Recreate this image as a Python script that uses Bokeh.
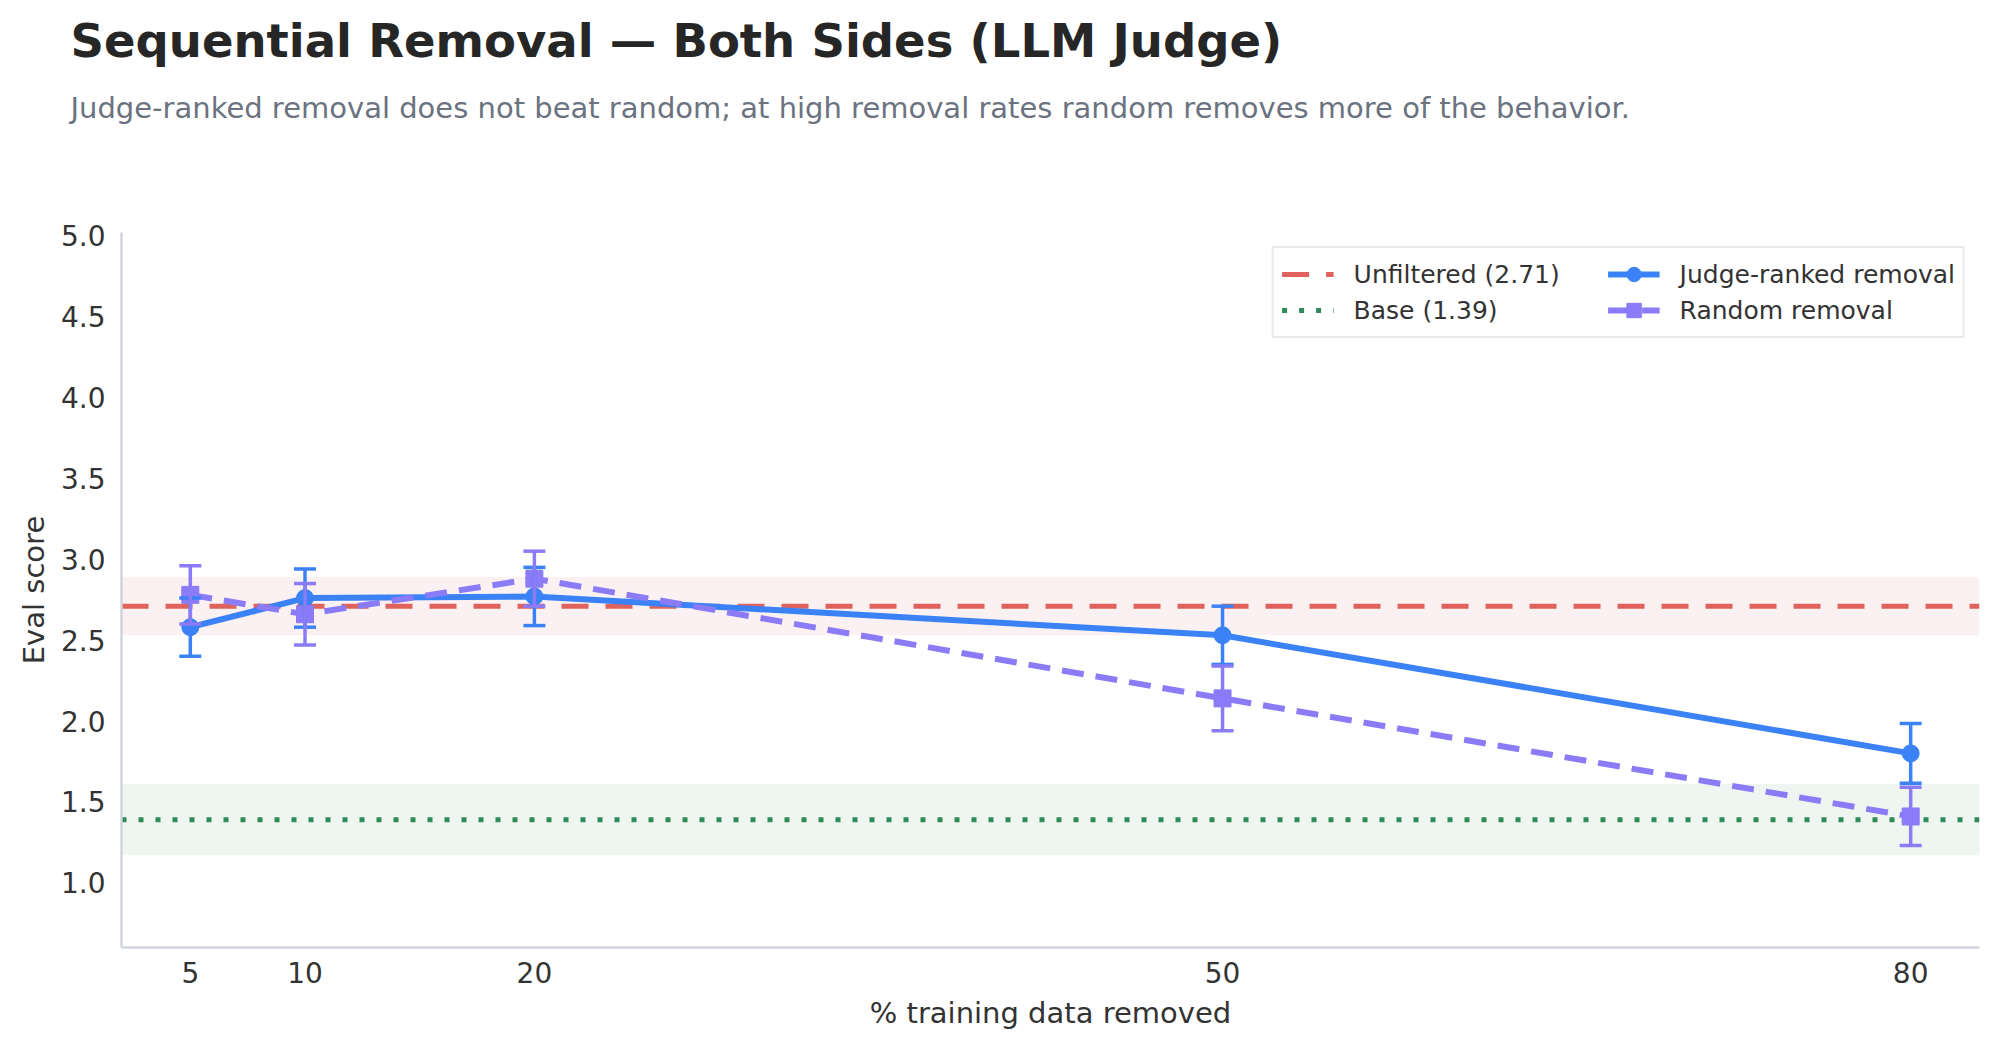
from bokeh.plotting import figure
from bokeh.models import (Range1d, BoxAnnotation, Legend, LegendItem, Title,
                          FixedTicker, Whisker, ColumnDataSource, TeeHead,
                          PrintfTickFormatter)
from bokeh.embed import file_html
from bokeh.resources import INLINE

# ---- data ----
pct_removed = [5, 10, 20, 50, 80]
judge_mean = [2.58, 2.76, 2.77, 2.53, 1.80]
judge_err = [0.18, 0.18, 0.18, 0.18, 0.185]
random_mean = [2.78, 2.66, 2.88, 2.14, 1.41]
random_err = [0.18, 0.19, 0.17, 0.20, 0.18]
unfiltered_score = 2.71
unfiltered_ci = 0.18
base_score = 1.39
base_ci = 0.22
x_ticks = [5, 10, 20, 50, 80]
y_ticks = [1.0, 1.5, 2.0, 2.5, 3.0, 3.5, 4.0, 4.5, 5.0]
x_lim = (2, 83)
y_lim = (0.6, 5.02)

title_text = "Sequential Removal \u2014 Both Sides (LLM Judge)"
subtitle_text = ("Judge-ranked removal does not beat random; at high removal rates "
                 "random removes more of the behavior.")

BLUE = "#3b82f6"
PURPLE = "#8b7bf7"
RED = "#e0625c"
GREEN = "#2e8b57"
FONT = "DejaVu Sans"

W, H = 1988, 1041
LEFT = 121

p = figure(width=W, height=H, output_backend="svg", toolbar_location=None,
           x_range=Range1d(*x_lim), y_range=Range1d(*y_lim),
           min_border_left=LEFT, min_border_right=9, min_border_top=232,
           min_border_bottom=94)
p.outline_line_color = None
p.xgrid.visible = False
p.ygrid.visible = False

# stacked from the frame outward: spacer, subtitle, main title (plot title)
p.title.text = title_text
p.title.text_font = FONT
p.title.text_font_size = "46.5px"
p.title.text_font_style = "bold"
p.title.text_color = "#262626"
p.title.align = "left"
p.title.offset = 70 - LEFT
p.title.standoff = 0
spacer = Title(text=" ", text_font=FONT, text_font_size="1px", align="left",
               standoff=84)
p.add_layout(spacer, "above")
subtitle = Title(text=subtitle_text, text_font=FONT, text_font_size="29px",
                 text_font_style="normal", text_color="#6b7280", align="left",
                 offset=70 - LEFT, standoff=42)
p.add_layout(subtitle, "above")

for ax in (p.xaxis[0], p.yaxis[0]):
    ax.axis_line_color = "#d1d5db"
    ax.axis_line_width = 2.5
    ax.major_tick_line_color = None
    ax.minor_tick_line_color = None
    ax.major_label_text_font = FONT
    ax.major_label_text_font_size = "28px"
    ax.major_label_text_color = "#333333"
    ax.axis_label_text_font = FONT
    ax.axis_label_text_font_size = "29px"
    ax.axis_label_text_font_style = "normal"
    ax.axis_label_text_color = "#333333"

p.xaxis.ticker = FixedTicker(ticks=x_ticks)
p.yaxis.ticker = FixedTicker(ticks=y_ticks)
p.yaxis.formatter = PrintfTickFormatter(format="%.1f")
p.xaxis.axis_label = "% training data removed"
p.yaxis.axis_label = "Eval score"
p.xaxis.major_label_standoff = 8
p.yaxis.major_label_standoff = 10
p.xaxis.axis_label_standoff = 10
p.yaxis.axis_label_standoff = 7

# bands
p.add_layout(BoxAnnotation(bottom=unfiltered_score - unfiltered_ci,
                           top=unfiltered_score + unfiltered_ci,
                           fill_color="#fcf1f2", fill_alpha=1.0, line_color=None,
                           level="underlay"))
p.add_layout(BoxAnnotation(bottom=base_score - base_ci, top=base_score + base_ci,
                           fill_color="#eff6f1", fill_alpha=1.0, line_color=None,
                           level="underlay"))

r_unf = p.line(x=list(x_lim), y=[unfiltered_score] * 2, line_color=RED,
               line_width=5, line_dash="27 17")
r_base = p.line(x=list(x_lim), y=[base_score] * 2, line_color=GREEN,
                line_width=5, line_dash="5 12")

def series(mean, err, color, marker, dash):
    src = ColumnDataSource(dict(x=pct_removed, y=mean,
                                lo=[m - e for m, e in zip(mean, err)],
                                hi=[m + e for m, e in zip(mean, err)]))
    w = Whisker(source=src, base="x", upper="hi", lower="lo",
                line_color=color, line_width=3.5, level="glyph",
                upper_head=TeeHead(size=22, line_color=color, line_width=3.5),
                lower_head=TeeHead(size=22, line_color=color, line_width=3.5))
    p.add_layout(w)
    ln = p.line("x", "y", source=src, line_color=color, line_width=6,
                line_dash=dash)
    mk = p.scatter("x", "y", source=src, marker=marker, size=17,
                   fill_color=color, line_color=color)
    return [ln, mk]

r_judge = series(judge_mean, judge_err, BLUE, "circle", "solid")
r_rand = series(random_mean, random_err, PURPLE, "square", "22 12")

legend = Legend(items=[
    LegendItem(label="Unfiltered (2.71)", renderers=[r_unf]),
    LegendItem(label="Base (1.39)", renderers=[r_base]),
    LegendItem(label="Judge-ranked removal", renderers=r_judge),
    LegendItem(label="Random removal", renderers=r_rand),
], ncols=2, location="top_right")
legend.margin = 14
legend.padding = 8
legend.spacing = 0
legend.label_standoff = 20
legend.glyph_width = 52
legend.glyph_height = 36
legend.label_width = 254
legend.label_text_font = FONT
legend.label_text_font_size = "25px"
legend.label_text_color = "#333333"
legend.border_line_color = "#d4d4d4"
legend.border_line_width = 2
legend.background_fill_alpha = 1.0
p.add_layout(legend)

open("out.html", "w").write(file_html(p, INLINE))
